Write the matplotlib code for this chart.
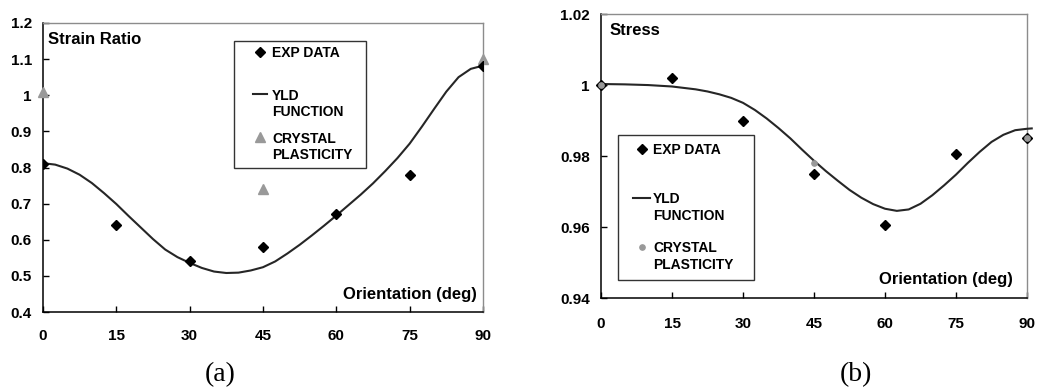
import matplotlib
matplotlib.use('Agg')
import matplotlib.pyplot as plt
from matplotlib.ticker import FuncFormatter, MultipleLocator
from matplotlib.legend_handler import HandlerLine2D

plt.rcParams['font.family'] = ['Liberation Sans', 'DejaVu Sans']
plt.rcParams['font.weight'] = 'bold'

# orientation angles of the measurements
angles = [0, 15, 30, 45, 60, 75, 90]

# (a) strain ratio
r_exp = [0.81, 0.64, 0.54, 0.58, 0.67, 0.78, 1.08]
r_cp_ang = [0, 45, 90]
r_cp = [1.01, 0.74, 1.10]
r_yld_ang = [0, 2.5, 5, 7.5, 10, 12.5, 15, 17.5, 20, 22.5, 25, 27.5, 30, 32.5, 35, 37.5, 40,
             42.5, 45, 47.5, 50, 52.5, 55, 57.5, 60, 62.5, 65, 67.5, 70, 72.5, 75, 77.5, 80,
             82.5, 85, 87.5, 90]
r_yld = [0.812, 0.808, 0.797, 0.780, 0.757, 0.729, 0.699, 0.666, 0.634, 0.602, 0.573, 0.552,
         0.536, 0.522, 0.512, 0.508, 0.509, 0.515, 0.524, 0.540, 0.562, 0.586, 0.612, 0.639,
         0.667, 0.696, 0.725, 0.756, 0.790, 0.826, 0.866, 0.913, 0.962, 1.010, 1.050, 1.073,
         1.082]

# (b) stress
s_exp = [1.0, 1.002, 0.990, 0.975, 0.9605, 0.9806, 0.9852]
s_cp_ang = [0, 45, 90]
s_cp = [1.0, 0.978, 0.985]
s_yld_ang = [0, 5, 10, 15, 20, 22.5, 25, 27.5, 30, 32.5, 35, 37.5, 40, 42.5, 45, 47.5, 50,
             52.5, 55, 57.5, 60, 62.5, 65, 67.5, 70, 72.5, 75, 77.5, 80, 82.5, 85, 87.5, 90, 91]
s_yld = [1.0003, 1.0002, 1.0000, 0.9996, 0.9988, 0.9982, 0.9974, 0.9964, 0.9950, 0.9930,
         0.9906, 0.9879, 0.9850, 0.9818, 0.9787, 0.9758, 0.9731, 0.9705, 0.9683, 0.9665,
         0.9652, 0.9646, 0.9650, 0.9666, 0.9690, 0.9718, 0.9748, 0.9781, 0.9812, 0.9840,
         0.9860, 0.9873, 0.9877, 0.9878]


class FirstLineHandler(HandlerLine2D):
    # put the legend key next to the first text line and leave a gap on its left
    def __init__(self, dx, dy, **kw):
        super().__init__(**kw)
        self.dx = dx
        self.dy = dy

    def create_artists(self, legend, orig_handle, xdescent, ydescent, width, height,
                       fontsize, trans):
        return super().create_artists(legend, orig_handle, xdescent - self.dx,
                                      ydescent - self.dy, width - self.dx, height,
                                      fontsize, trans)


fig = plt.figure(figsize=(10.4, 3.89), dpi=100)
ax1 = fig.add_axes([0.0413, 0.1979, 0.4231, 0.7430])
ax2 = fig.add_axes([0.5779, 0.2332, 0.4096, 0.7308])

fmt = FuncFormatter(lambda v, p: '{:g}'.format(round(v, 4)))


def style(ax, ylo, yhi, ystep, xpad):
    ax.set_xlim(0, 90)
    ax.set_ylim(ylo, yhi)
    ax.xaxis.set_major_locator(MultipleLocator(15))
    ax.yaxis.set_major_locator(MultipleLocator(ystep))
    ax.yaxis.set_major_formatter(fmt)
    ax.tick_params(direction='in', length=4, width=1, labelsize=11)
    ax.tick_params(axis='x', pad=xpad)
    ax.tick_params(axis='y', pad=8)
    for s in ['top', 'right']:
        ax.spines[s].set_color('#8c8c8c')
        ax.spines[s].set_linewidth(1)
    for s in ['left', 'bottom']:
        ax.spines[s].set_color('black')
        ax.spines[s].set_linewidth(1.1)
    for lab in ax.get_xticklabels() + ax.get_yticklabels():
        lab.set_fontweight('bold')


def make_legend(ax, box, dx, lspace, bpad, hlen, tpad):
    lines = ax.get_lines()
    fs = 10
    leg = ax.legend(lines, ['EXP DATA\n ', 'YLD\nFUNCTION', 'CRYSTAL\nPLASTICITY'],
                    loc='upper left', bbox_to_anchor=box, mode='expand', borderaxespad=0,
                    frameon=True, fancybox=False, edgecolor='black', fontsize=fs,
                    handlelength=hlen, handletextpad=tpad, labelspacing=lspace,
                    borderpad=bpad, numpoints=1,
                    handler_map={l: FirstLineHandler(dx, 1.5 * fs) for l in lines})
    leg.get_frame().set_linewidth(1)
    for t in leg.get_texts():
        t.set_fontweight('bold')
    return leg


# panel (a)
style(ax1, 0.4, 1.2, 0.1, 12.5)
ax1.plot(angles, r_exp, linestyle='none', marker='D', ms=4.7, color='black', zorder=4)
ax1.plot(r_yld_ang, r_yld, color='#262626', lw=1.5, zorder=3)
ax1.plot(r_cp_ang, r_cp, linestyle='none', marker='^', ms=6.5, color='#999999',
         zorder=3, clip_on=False)
ax1.text(0.011, 0.969, 'Strain Ratio', transform=ax1.transAxes, fontsize=12,
         fontweight='bold', va='top', ha='left')
ax1.text(0.986, 0.035, 'Orientation (deg)', transform=ax1.transAxes, fontsize=12,
         fontweight='bold', va='bottom', ha='right')
make_legend(ax1, (0.434, 0.505, 0.300, 0.433), 9.4, 0.9, 0.4, 2.0, 0.36)

# panel (b)
style(ax2, 0.94, 1.02, 0.02, 13.8)
ax2.plot(angles, s_exp, linestyle='none', marker='D', ms=4.7, color='black',
         zorder=4, clip_on=False)
ax2.plot(s_yld_ang, s_yld, color='#262626', lw=1.5, zorder=3, clip_on=False)
ax2.plot(s_cp_ang, s_cp, linestyle='none', marker='o', ms=3.8, color='#999999',
         zorder=5, clip_on=False)
ax2.text(0.021, 0.967, 'Stress', transform=ax2.transAxes, fontsize=12,
         fontweight='bold', va='top', ha='left')
ax2.text(0.966, 0.041, 'Orientation (deg)', transform=ax2.transAxes, fontsize=12,
         fontweight='bold', va='bottom', ha='right')
make_legend(ax2, (0.040, 0.068, 0.319, 0.506), 4.8, 1.35, 0.6, 1.7, 0.22)

fig.text(0.2115, 0.006, '(a)', family='Liberation Serif', fontweight='normal', fontsize=20,
         ha='center', va='bottom')
fig.text(0.8226, 0.006, '(b)', family='Liberation Serif', fontweight='normal', fontsize=20,
         ha='center', va='bottom')

fig.savefig('out.png', dpi=100)
